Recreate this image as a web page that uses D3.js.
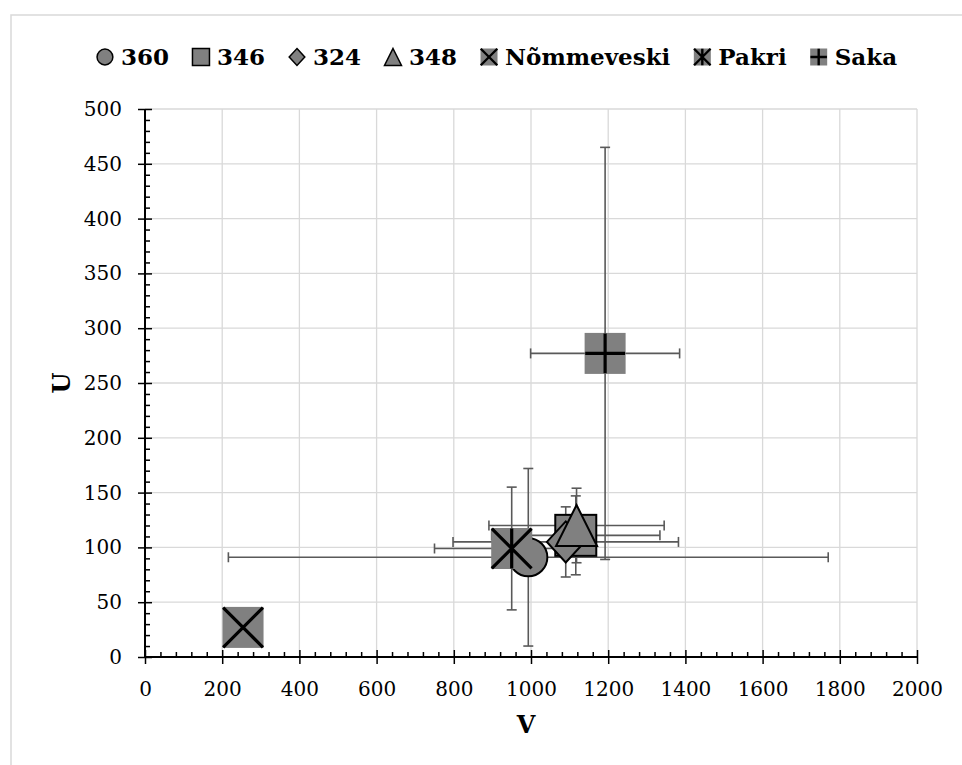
<!DOCTYPE html>
<html>
<head>
<meta charset="utf-8">
<script src="https://cdn.jsdelivr.net/npm/d3@7"></script>
<style>
  body { margin: 0; background: #fff; }
  svg { display: block; font-family: 'DejaVu Serif', serif; }
</style>
</head>
<body>
<div id="chart"></div>
<script>
// Data
const seriesNames = ['360', '346', '324', '348', 'Nõmmeveski', 'Pakri', 'Saka'];
const markerTypes = ['circle', 'square', 'diamond', 'triangle', 'x', 'asterisk', 'plus'];
const vValues = [993, 1116, 1090, 1118, 254, 950, 1192];
const uValues = [91, 111, 105, 120, 27, 99, 277];
const vErrors = [777, 218, 292, 227, 0, 200, 193];
const uErrors = [81, 36, 32, 34, 0, 56, 188];
const xTicks = [0, 200, 400, 600, 800, 1000, 1200, 1400, 1600, 1800, 2000];
const yTicks = [0, 50, 100, 150, 200, 250, 300, 350, 400, 450, 500];

const records = seriesNames.map((name, i) => ({
  name, type: markerTypes[i], v: vValues[i], u: uValues[i], ve: vErrors[i], ue: uErrors[i]
}));

const width = 962, height = 765;
const margin = { top: 109, right: 45, bottom: 108, left: 145 };
const plotW = width - margin.left - margin.right;
const plotH = height - margin.top - margin.bottom;

const svg = d3.select('#chart').append('svg')
  .attr('width', width)
  .attr('height', height);

// chart area border
svg.append('rect')
  .attr('x', 11).attr('y', 15)
  .attr('width', 1000).attr('height', 800)
  .attr('fill', 'none')
  .attr('stroke', '#d9d9d9')
  .attr('stroke-width', 1.5);

const g = svg.append('g')
  .attr('transform', `translate(${margin.left},${margin.top})`);

const x = d3.scaleLinear().domain([0, 2000]).range([0, plotW]);
const y = d3.scaleLinear().domain([0, 500]).range([plotH, 0]);

// gridlines
g.append('g').selectAll('line.vg')
  .data(xTicks.slice(1))
  .enter().append('line')
  .attr('x1', d => x(d)).attr('x2', d => x(d))
  .attr('y1', 0).attr('y2', plotH)
  .attr('stroke', '#d9d9d9').attr('stroke-width', 1.3);

g.append('g').selectAll('line.hg')
  .data(yTicks.slice(1))
  .enter().append('line')
  .attr('x1', 0).attr('x2', plotW)
  .attr('y1', d => y(d)).attr('y2', d => y(d))
  .attr('stroke', '#d9d9d9').attr('stroke-width', 1.3);

// minor ticks (inside)
const xMinor = d3.range(0, 2001, 40).filter(d => d % 200 !== 0);
const yMinor = d3.range(0, 501, 10).filter(d => d % 50 !== 0);

const axisX = g.append('g').attr('transform', `translate(0,${plotH})`);
axisX.call(d3.axisBottom(x).tickValues(xMinor).tickSize(0).tickFormat(''));
axisX.selectAll('.tick line').remove();
axisX.selectAll('.tick').append('line')
  .attr('y1', 0).attr('y2', -5).attr('stroke', '#000').attr('stroke-width', 1.5);

const axisXMajor = g.append('g').attr('transform', `translate(0,${plotH})`)
  .call(d3.axisBottom(x).tickValues(xTicks).tickSize(7).tickPadding(18).tickFormat(d3.format('d')));
axisXMajor.select('.domain').remove();
axisXMajor.selectAll('.tick line').attr('y1', -7).attr('stroke', '#000').attr('stroke-width', 1.5);
axisXMajor.selectAll('.tick text')
  .attr('fill', '#000')
  .style('font-size', '20px')
  .style('font-family', "'DejaVu Serif', serif");

const axisY = g.append('g');
axisY.call(d3.axisLeft(y).tickValues(yMinor).tickSize(0).tickFormat(''));
axisY.selectAll('.tick line').remove();
axisY.selectAll('.tick').append('line')
  .attr('x1', 0).attr('x2', 5).attr('stroke', '#000').attr('stroke-width', 1.5);

const axisYMajor = g.append('g')
  .call(d3.axisLeft(y).tickValues(yTicks).tickSize(7).tickPadding(16).tickFormat(d3.format('d')));
axisYMajor.select('.domain').remove();
axisYMajor.selectAll('.tick line').attr('x2', 7).attr('x1', -7).attr('stroke', '#000').attr('stroke-width', 1.5);
axisYMajor.selectAll('.tick text')
  .attr('fill', '#000')
  .style('font-size', '20px')
  .style('font-family', "'DejaVu Serif', serif");

// axis lines
g.append('line').attr('x1', 0).attr('x2', plotW).attr('y1', plotH).attr('y2', plotH)
  .attr('stroke', '#000').attr('stroke-width', 2);
g.append('line').attr('x1', 0).attr('x2', 0).attr('y1', 0).attr('y2', plotH)
  .attr('stroke', '#000').attr('stroke-width', 2);

// error bars
const errColor = '#595959';
const cap = 5;
const eb = g.append('g').attr('stroke', errColor).attr('stroke-width', 1.6).attr('fill', 'none');
records.filter(d => d.ve > 0).forEach(d => {
  const yy = y(d.u), x0 = x(d.v - d.ve), x1 = x(d.v + d.ve);
  eb.append('line').attr('x1', x0).attr('x2', x1).attr('y1', yy).attr('y2', yy);
  eb.append('line').attr('x1', x0).attr('x2', x0).attr('y1', yy - cap).attr('y2', yy + cap);
  eb.append('line').attr('x1', x1).attr('x2', x1).attr('y1', yy - cap).attr('y2', yy + cap);
});
records.filter(d => d.ue > 0).forEach(d => {
  const xx = x(d.v), y0 = y(d.u - d.ue), y1 = y(d.u + d.ue);
  eb.append('line').attr('x1', xx).attr('x2', xx).attr('y1', y0).attr('y2', y1);
  eb.append('line').attr('x1', xx - cap).attr('x2', xx + cap).attr('y1', y0).attr('y2', y0);
  eb.append('line').attr('x1', xx - cap).attr('x2', xx + cap).attr('y1', y1).attr('y2', y1);
});

// marker drawing helper: s = nominal size
function drawMarker(sel, type, s, lw) {
  const h = s / 2;
  const fill = '#808080';
  if (type === 'circle') {
    sel.append('circle').attr('r', h * 0.93).attr('fill', fill).attr('stroke', '#000').attr('stroke-width', lw);
  } else if (type === 'square') {
    sel.append('rect').attr('x', -h).attr('y', -h).attr('width', s).attr('height', s)
      .attr('fill', fill).attr('stroke', '#000').attr('stroke-width', lw);
  } else if (type === 'diamond') {
    const w = h * 0.92;
    sel.append('path').attr('d', `M0,${-h}L${w},0L0,${h}L${-w},0Z`)
      .attr('fill', fill).attr('stroke', '#000').attr('stroke-width', lw).attr('stroke-linejoin', 'miter');
  } else if (type === 'triangle') {
    sel.append('path').attr('d', `M0,${-h}L${h},${h}L${-h},${h}Z`)
      .attr('fill', fill).attr('stroke', '#000').attr('stroke-width', lw).attr('stroke-linejoin', 'miter');
  } else {
    sel.append('rect').attr('x', -h).attr('y', -h).attr('width', s).attr('height', s).attr('fill', fill);
    const k = h * 0.97;
    const strokeW = lw * 1.6;
    let d = '';
    if (type === 'x' || type === 'asterisk') d += `M${-k},${-k}L${k},${k}M${k},${-k}L${-k},${k}`;
    if (type === 'asterisk') d += `M0,${-k}L0,${k}`;
    if (type === 'plus') d += `M${-k},0L${k},0M0,${-k}L0,${k}`;
    sel.append('path').attr('d', d).attr('stroke', '#000').attr('stroke-width', strokeW).attr('fill', 'none');
  }
}

// markers
records.forEach(d => {
  const m = g.append('g').attr('transform', `translate(${x(d.v)},${y(d.u)})`);
  drawMarker(m, d.type, 41, 2);
});

// axis titles
svg.append('text')
  .attr('x', margin.left + plotW / 2 - 5)
  .attr('y', 733)
  .attr('text-anchor', 'middle')
  .style('font-size', '24px')
  .style('font-weight', 'bold')
  .text('V');

svg.append('text')
  .attr('transform', `translate(70,${margin.top + plotH / 2 + 0}) rotate(-90)`)
  .attr('text-anchor', 'middle')
  .style('font-size', '24px')
  .style('font-weight', 'bold')
  .text('U');

// legend
const legend = svg.append('g');
const gap = 24;
let cursor = 0;
records.forEach((d, i) => {
  const it = legend.append('g');
  drawMarker(it.append('g').attr('transform', 'translate(8,0)'), d.type, 17, 1.5);
  const t = it.append('text')
    .attr('x', 24)
    .attr('dy', '0.35em')
    .style('font-size', '23px')
    .style('font-weight', 'bold')
    .text(d.name);
  const w = 24 + t.node().getComputedTextLength();
  it.attr('transform', `translate(${cursor},57)`);
  cursor += w + gap;
});
const legendW = cursor - gap;
legend.attr('transform', `translate(${497 - legendW / 2},0)`);
</script>
</body>
</html>
